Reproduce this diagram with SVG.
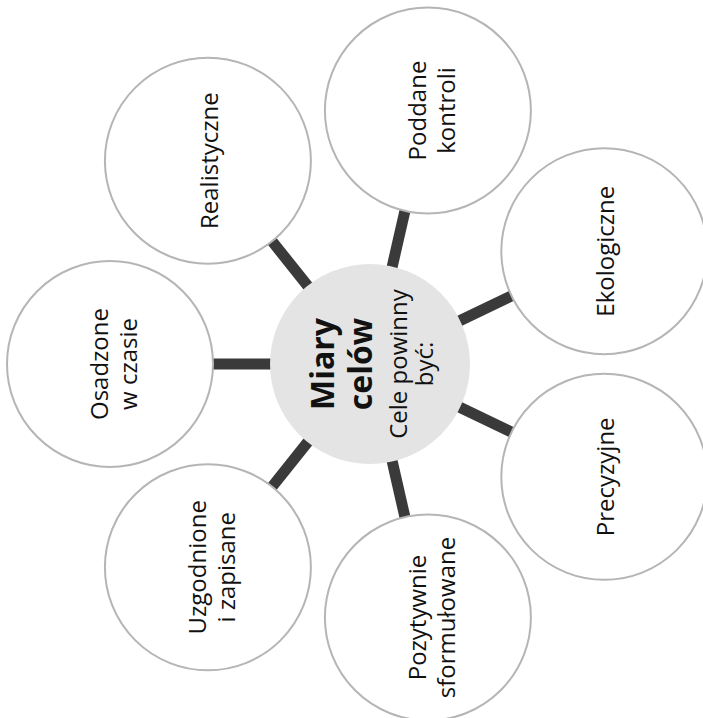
<svg xmlns="http://www.w3.org/2000/svg" width="703" height="718" viewBox="0 0 703 718">
<style>
.bg{fill:#ffffff}
.outer{fill:#ffffff;stroke:#b5b5b5;stroke-width:2}
.hub{fill:#e4e4e4}
.conn{stroke:#3a3a3a;stroke-width:11;stroke-linecap:butt}
.lbl{font-family:"Open Sans","Noto Sans","Liberation Sans",sans-serif;font-size:24px;fill:#111111;text-anchor:middle}
.ttl{font-family:"Open Sans","Noto Sans","Liberation Sans",sans-serif;font-size:32px;font-weight:bold;fill:#111111;text-anchor:middle}
.sub{font-family:"Open Sans","Noto Sans","Liberation Sans",sans-serif;font-size:24px;fill:#111111;text-anchor:middle}
</style>
<rect class="bg" x="0" y="0" width="703" height="718"/>
<g id="connectors">
<line class="conn" x1="275" y1="364" x2="210" y2="364"/>
<line class="conn" x1="310.8" y1="289.7" x2="270.2" y2="238.9"/>
<line class="conn" x1="391.1" y1="271.4" x2="405.6" y2="208"/>
<line class="conn" x1="455.6" y1="322.8" x2="514.2" y2="294.6"/>
<line class="conn" x1="455.6" y1="405.2" x2="514.2" y2="433.4"/>
<line class="conn" x1="391.1" y1="456.6" x2="405.6" y2="520"/>
<line class="conn" x1="310.8" y1="438.3" x2="270.2" y2="489.1"/>
</g>
<g id="hub">
<circle class="hub" cx="370" cy="364" r="100"/>
<g transform="translate(370,364) rotate(-90)">
<text class="ttl" x="0" y="-36">Miary</text>
<text class="ttl" x="0" y="2">celów</text>
<text class="sub" x="0" y="37">Cele powinny</text>
<text class="sub" x="0" y="63">być:</text>
</g>
</g>
<g id="node-osadzone">
<circle class="outer" cx="110" cy="364" r="103"/>
<g transform="translate(110,364) rotate(-90)"><text class="lbl" x="0" y="-2">Osadzone</text><text class="lbl" x="0" y="27">w czasie</text></g>
</g>
<g id="node-realistyczne">
<circle class="outer" cx="207.9" cy="160.7" r="103"/>
<g transform="translate(207.9,160.7) rotate(-90)"><text class="lbl" x="0" y="10">Realistyczne</text></g>
</g>
<g id="node-poddane">
<circle class="outer" cx="427.9" cy="110.5" r="103"/>
<g transform="translate(427.9,110.5) rotate(-90)"><text class="lbl" x="0" y="-2">Poddane</text><text class="lbl" x="0" y="27">kontroli</text></g>
</g>
<g id="node-ekologiczne">
<circle class="outer" cx="604.3" cy="251.2" r="103"/>
<g transform="translate(604.3,251.2) rotate(-90)"><text class="lbl" x="0" y="10">Ekologiczne</text></g>
</g>
<g id="node-precyzyjne">
<circle class="outer" cx="604.3" cy="476.8" r="103"/>
<g transform="translate(604.3,476.8) rotate(-90)"><text class="lbl" x="0" y="10">Precyzyjne</text></g>
</g>
<g id="node-pozytywnie">
<circle class="outer" cx="427.9" cy="617.5" r="103"/>
<g transform="translate(427.9,617.5) rotate(-90)"><text class="lbl" x="0" y="-2">Pozytywnie</text><text class="lbl" x="0" y="27">sformułowane</text></g>
</g>
<g id="node-uzgodnione">
<circle class="outer" cx="207.9" cy="567.3" r="103"/>
<g transform="translate(207.9,567.3) rotate(-90)"><text class="lbl" x="0" y="-2">Uzgodnione</text><text class="lbl" x="0" y="27">i zapisane</text></g>
</g>
</svg>
